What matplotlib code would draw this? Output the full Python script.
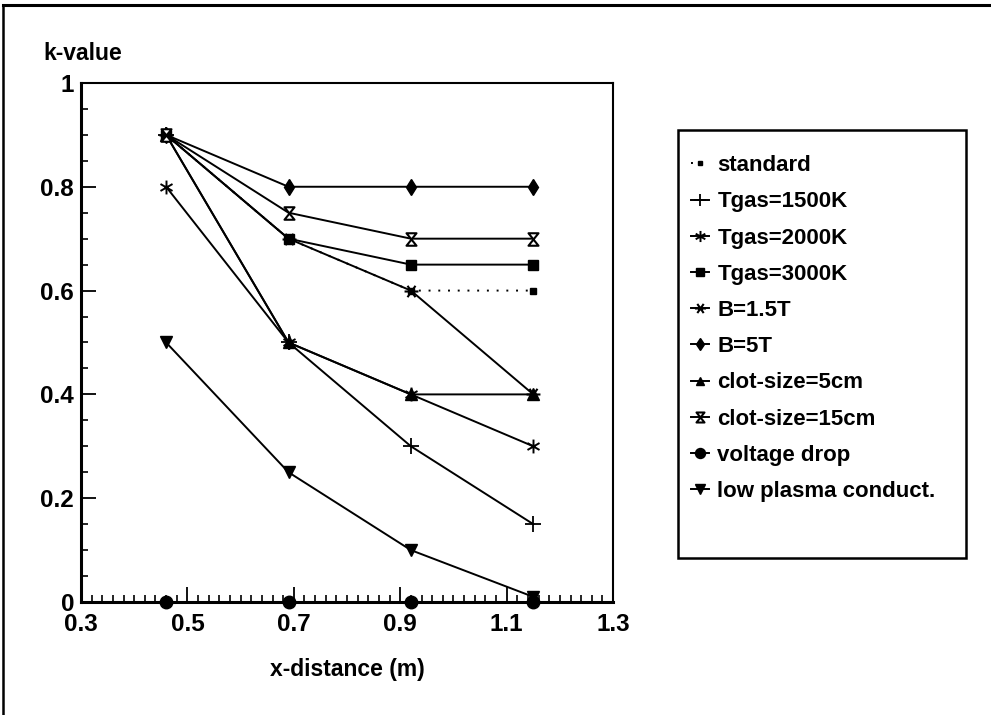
import matplotlib
matplotlib.use("Agg")
import matplotlib.pyplot as plt
import numpy as np
from matplotlib.path import Path
from matplotlib.lines import Line2D
from matplotlib.patches import Rectangle
from matplotlib.ticker import MultipleLocator

plt.rcParams['font.family'] = ['Liberation Sans', 'DejaVu Sans']
plt.rcParams['font.weight'] = 'bold'

# ---- data ----
x_dist = [0.46, 0.69, 0.92, 1.15]
standard = [0.9, 0.7, 0.6, 0.6]
tgas_1500 = [0.9, 0.5, 0.3, 0.15]
tgas_2000 = [0.8, 0.5, 0.4, 0.3]
tgas_3000 = [0.9, 0.7, 0.65, 0.65]
b_15 = [0.9, 0.7, 0.6, 0.4]
b_5 = [0.9, 0.8, 0.8, 0.8]
clot_5 = [0.9, 0.5, 0.4, 0.4]
clot_15 = [0.9, 0.75, 0.7, 0.7]
voltage_drop = [0.0, 0.0, 0.0, 0.0]
low_plasma = [0.5, 0.25, 0.1, 0.01]

labels = ['standard', 'Tgas=1500K', 'Tgas=2000K', 'Tgas=3000K', 'B=1.5T', 'B=5T',
          'clot-size=5cm', 'clot-size=15cm', 'voltage drop', 'low plasma conduct.']
x_ticks = [0.3, 0.5, 0.7, 0.9, 1.1, 1.3]
y_ticks = [0, 0.2, 0.4, 0.6, 0.8, 1]
y_ticklabels = ['0', '0.2', '0.4', '0.6', '0.8', '1']

# ---- custom markers ----
def star_path(angles_deg):
    verts, codes = [], []
    for a in angles_deg:
        r = np.deg2rad(a)
        verts += [(-np.cos(r), -np.sin(r)), (np.cos(r), np.sin(r))]
        codes += [Path.MOVETO, Path.LINETO]
    return Path(verts, codes)

ast_vert = star_path([90, 30, -30])      # asterisk with vertical bar
ast_horiz = star_path([0, 55, 125])      # X with horizontal bar
hourglass = Path([(-0.8, 1), (0.8, 1), (-0.8, -1), (0.8, -1), (-0.8, 1)],
                 [Path.MOVETO, Path.LINETO, Path.LINETO, Path.LINETO, Path.CLOSEPOLY])

fig = plt.figure(figsize=(9.91, 7.15), dpi=100)
ax = fig.add_axes([0.0817, 0.158, 0.537, 0.726])

lw = 1.4
series = [
    (standard, dict(linestyle=(0, (1, 4)), marker='s', markersize=4)),
    (tgas_1500, dict(marker='+', markersize=11, markeredgewidth=1.3)),
    (tgas_2000, dict(marker=ast_vert, markersize=10, markeredgewidth=1.4)),
    (tgas_3000, dict(marker='s', markersize=6.5)),
    (b_15, dict(marker=ast_horiz, markersize=10, markeredgewidth=1.5)),
    (b_5, dict(marker='d', markersize=8)),
    (clot_5, dict(marker='^', markersize=8)),
    (clot_15, dict(marker=hourglass, markersize=9, markerfacecolor='white',
                   markeredgewidth=1.5)),
    (voltage_drop, dict(marker='o', markersize=9)),
    (low_plasma, dict(marker='v', markersize=8.5)),
]

handles = []
for (vals, kw), lab in zip(series, labels):
    kw.setdefault('linestyle', '-')
    kw.setdefault('markerfacecolor', 'black')
    kw.setdefault('markeredgecolor', 'black')
    h, = ax.plot(x_dist, vals, color='black', linewidth=lw, label=lab,
                 clip_on=False, zorder=3, **kw)
    handles.append(h)

ax.set_xlim(0.3, 1.3)
ax.set_ylim(0, 1)
ax.set_xticks(x_ticks)
ax.set_xticklabels([f'{v:.1f}' for v in x_ticks])
ax.set_yticks(y_ticks)
ax.set_yticklabels(y_ticklabels)
ax.xaxis.set_minor_locator(MultipleLocator(0.02))
ax.yaxis.set_minor_locator(MultipleLocator(0.05))
ax.tick_params(which='major', direction='in', length=11, width=1.3,
               labelsize=17.5)
ax.tick_params(axis='x', which='major', pad=8)
ax.tick_params(axis='y', which='major', pad=5)
ax.tick_params(which='minor', direction='in', length=5, width=1.2)
for lab in ax.get_xticklabels() + ax.get_yticklabels():
    lab.set_fontweight('bold')
for s in ['left', 'bottom']:
    ax.spines[s].set_linewidth(2.2)
for s in ['top', 'right']:
    ax.spines[s].set_linewidth(1.5)

ax.set_xlabel('x-distance (m)', fontsize=16.5, fontweight='bold', labelpad=16)
fig.text(43 / 991, 1 - 60 / 715, 'k-value', fontsize=16.5, fontweight='bold',
         ha='left', va='baseline')

# legend (frameless) with a separate box
leg = fig.legend(handles=handles, labels=labels, loc='upper left',
                 bbox_to_anchor=(0.697, 0.783), bbox_transform=fig.transFigure,
                 frameon=False, fontsize=16, handlelength=0.8, handletextpad=0.4,
                 labelspacing=0.685, borderaxespad=0, borderpad=0, markerscale=0.8)
for t in leg.get_texts():
    t.set_fontweight('bold')

fig.add_artist(Rectangle((678 / 991, 1 - 558 / 715), (966 - 678) / 991,
                         (558 - 130) / 715, transform=fig.transFigure,
                         fill=False, edgecolor='black', linewidth=1.8))

# page border lines (top and left)
fig.add_artist(Line2D([3 / 991, 1], [1 - 5 / 715, 1 - 5 / 715],
                      transform=fig.transFigure, color='black', linewidth=2.2))
fig.add_artist(Line2D([3 / 991, 3 / 991], [0, 1 - 5 / 715],
                      transform=fig.transFigure, color='black', linewidth=1.8))

fig.savefig('out.png', dpi=100)
